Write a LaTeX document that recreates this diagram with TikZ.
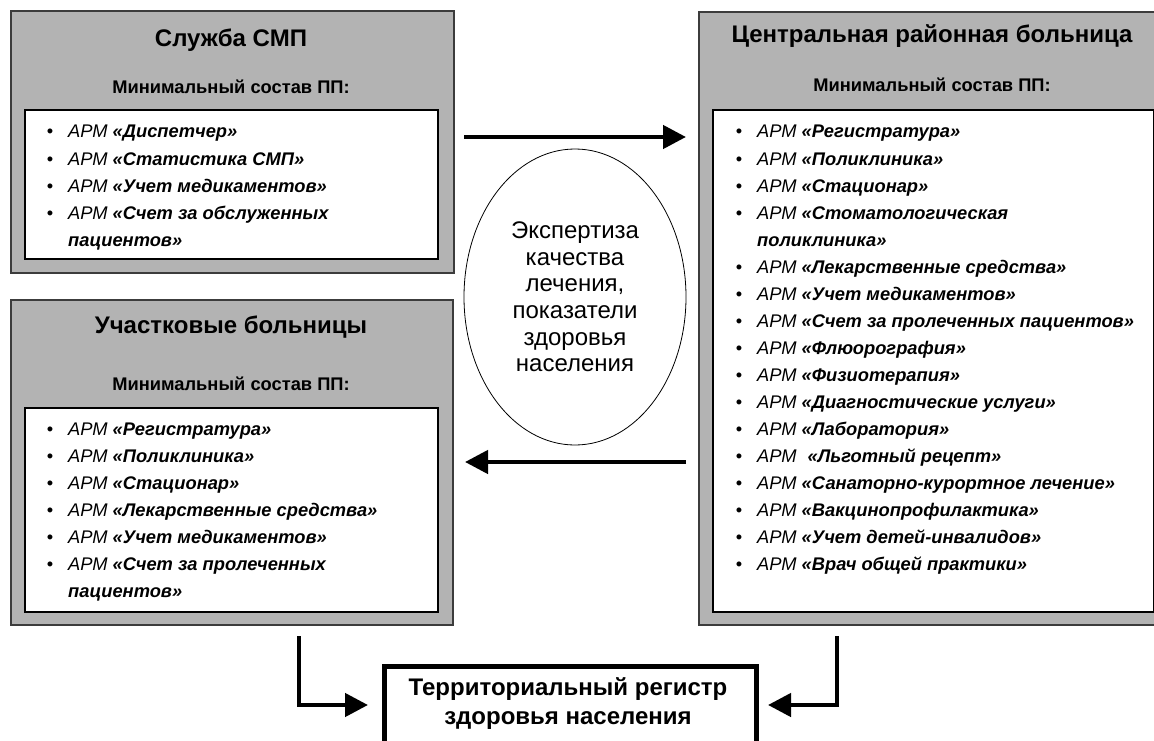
\documentclass[tikz,border=0pt]{standalone}
\usepackage{fontspec}
\setmainfont{Liberation Sans}
\usetikzlibrary{arrows.meta,shapes.geometric}
\definecolor{boxgray}{RGB}{179,179,179}
\definecolor{edgegray}{RGB}{60,60,60}
\newcommand{\armln}[5]{% name, bullet x, baseline y, text x, text
  \node[bul] (#1b) at (#2,#3) {•};
  \node[itm] (#1) at (#4,#3) {#5};
}
\newcommand{\armname}[1]{\textit{АРМ} \textbf{\textit{#1}}}
\begin{document}
\begin{tikzpicture}[x=1pt,y=-1pt,
  outerbox/.style={draw=edgegray, line width=1.6pt, fill=boxgray, anchor=north west, inner sep=0pt},
  innerbox/.style={draw=black, line width=1.8pt, fill=white, anchor=north west, inner sep=0pt},
  ttl/.style={anchor=base, font=\fontsize{24}{28}\selectfont\bfseries, inner sep=0pt},
  subttl/.style={anchor=base, font=\fontsize{18.3}{22}\selectfont\bfseries, inner sep=0pt},
  itm/.style={anchor=base west, font=\fontsize{18.3}{22}\selectfont, inner sep=0pt},
  bul/.style={anchor=base, font=\fontsize{18.3}{22}\selectfont, inner sep=0pt},
  regtext/.style={anchor=base, inner sep=0pt, font=\fontsize{24}{29}\selectfont\bfseries},
  flow/.style={line width=4.5pt, -{Triangle[length=23pt,width=23pt]}},
  ]
\useasboundingbox (0,0) rectangle (1154,741);
\clip (0,0) rectangle (1154,741);

% ---------- Служба СМП ----------
\node[outerbox, minimum width=443pt, minimum height=262pt] (smp) at (10,10) {};
\node[innerbox, minimum width=413pt, minimum height=149pt] (smpin) at (24,109) {};
\node[ttl] (smpt) at (231,47) {Служба СМП};
\node[subttl] (smps) at (231,94) {Минимальный состав ПП:};
\armln{s1}{50}{138}{68}{\armname{«Диспетчер»}}
\armln{s2}{50}{165}{68}{\armname{«Статистика СМП»}}
\armln{s3}{50}{192}{68}{\armname{«Учет медикаментов»}}
\armln{s4}{50}{219}{68}{\armname{«Счет за обслуженных}}
\node[itm] (s4c) at (68,246) {\textbf{\textit{пациентов»}}};

% ---------- Участковые больницы ----------
\node[outerbox, minimum width=442pt, minimum height=325pt] (uch) at (10,299) {};
\node[innerbox, minimum width=413pt, minimum height=204pt] (uchin) at (24,407) {};
\node[ttl] (ucht) at (231,333) {Участковые больницы};
\node[subttl] (uchs) at (231,390) {Минимальный состав ПП:};
\armln{u1}{50}{435}{68}{\armname{«Регистратура»}}
\armln{u2}{50}{462}{68}{\armname{«Поликлиника»}}
\armln{u3}{50}{489}{68}{\armname{«Стационар»}}
\armln{u4}{50}{516}{68}{\armname{«Лекарственные средства»}}
\armln{u5}{50}{543}{68}{\armname{«Учет медикаментов»}}
\armln{u6}{50}{570}{68}{\armname{«Счет за пролеченных}}
\node[itm] (u6c) at (68,597) {\textbf{\textit{пациентов»}}};

% ---------- Центральная районная больница ----------
\node[outerbox, minimum width=469pt, minimum height=613pt] (crb) at (698,11) {};
\node[innerbox, minimum width=441pt, minimum height=502pt] (crbin) at (712,109) {};
\node[ttl] (crbt) at (932,43) {Центральная районная больница};
\node[subttl] (crbs) at (932,92) {Минимальный состав ПП:};
\armln{c1}{739}{138}{757}{\armname{«Регистратура»}}
\armln{c2}{739}{165}{757}{\armname{«Поликлиника»}}
\armln{c3}{739}{192}{757}{\armname{«Стационар»}}
\armln{c4}{739}{219}{757}{\armname{«Стоматологическая}}
\node[itm] (c4c) at (757,246) {\textbf{\textit{поликлиника»}}};
\armln{c5}{739}{273}{757}{\armname{«Лекарственные средства»}}
\armln{c6}{739}{300}{757}{\armname{«Учет медикаментов»}}
\armln{c7}{739}{327}{757}{\armname{«Счет за пролеченных пациентов»}}
\armln{c8}{739}{354}{757}{\armname{«Флюорография»}}
\armln{c9}{739}{381}{757}{\armname{«Физиотерапия»}}
\armln{c10}{739}{408}{757}{\armname{«Диагностические услуги»}}
\armln{c11}{739}{435}{757}{\armname{«Лаборатория»}}
\armln{c12}{739}{462}{757}{\textit{АРМ}\hspace{0.6em}\textbf{\textit{«Льготный рецепт»}}}
\armln{c13}{739}{489}{757}{\armname{«Санаторно-курортное лечение»}}
\armln{c14}{739}{516}{757}{\armname{«Вакцинопрофилактика»}}
\armln{c15}{739}{543}{757}{\armname{«Учет детей-инвалидов»}}
\armln{c16}{739}{570}{757}{\armname{«Врач общей практики»}}

% ---------- Ellipse ----------
\node[draw=black, line width=0.8pt, fill=white, ellipse, minimum width=222pt, minimum height=296pt, inner sep=0pt,
      align=center, font=\fontsize{24}{26.6}\selectfont] (exp) at (575,297)
  {Экспертиза\\качества\\лечения,\\показатели\\здоровья\\населения};

% ---------- Территориальный регистр ----------
\node[draw=black, line width=4.5pt, fill=white, anchor=north west, inner sep=0pt,
      minimum width=372pt, minimum height=110pt] (reg) at (382,664) {};
\node[regtext] (regt1) at (568,695) {Территориальный регистр};
\node[regtext] (regt2) at (568,724) {здоровья населения};

% ---------- Connectors ----------
\coordinate (a1s) at (464,137);
\coordinate (a1e) at (686,137);
\coordinate (a2s) at (686,462);
\coordinate (a2e) at (465,462);
\coordinate (l1s) at (299,636);
\coordinate (l1e) at (368,705);
\coordinate (r1s) at (837,636);
\coordinate (r1e) at (768,705);
\draw[flow] (a1s) -- (a1e);
\draw[flow] (a2s) -- (a2e);
\draw[flow] (l1s) |- (l1e);
\draw[flow] (r1s) |- (r1e);
\end{tikzpicture}
\end{document}
